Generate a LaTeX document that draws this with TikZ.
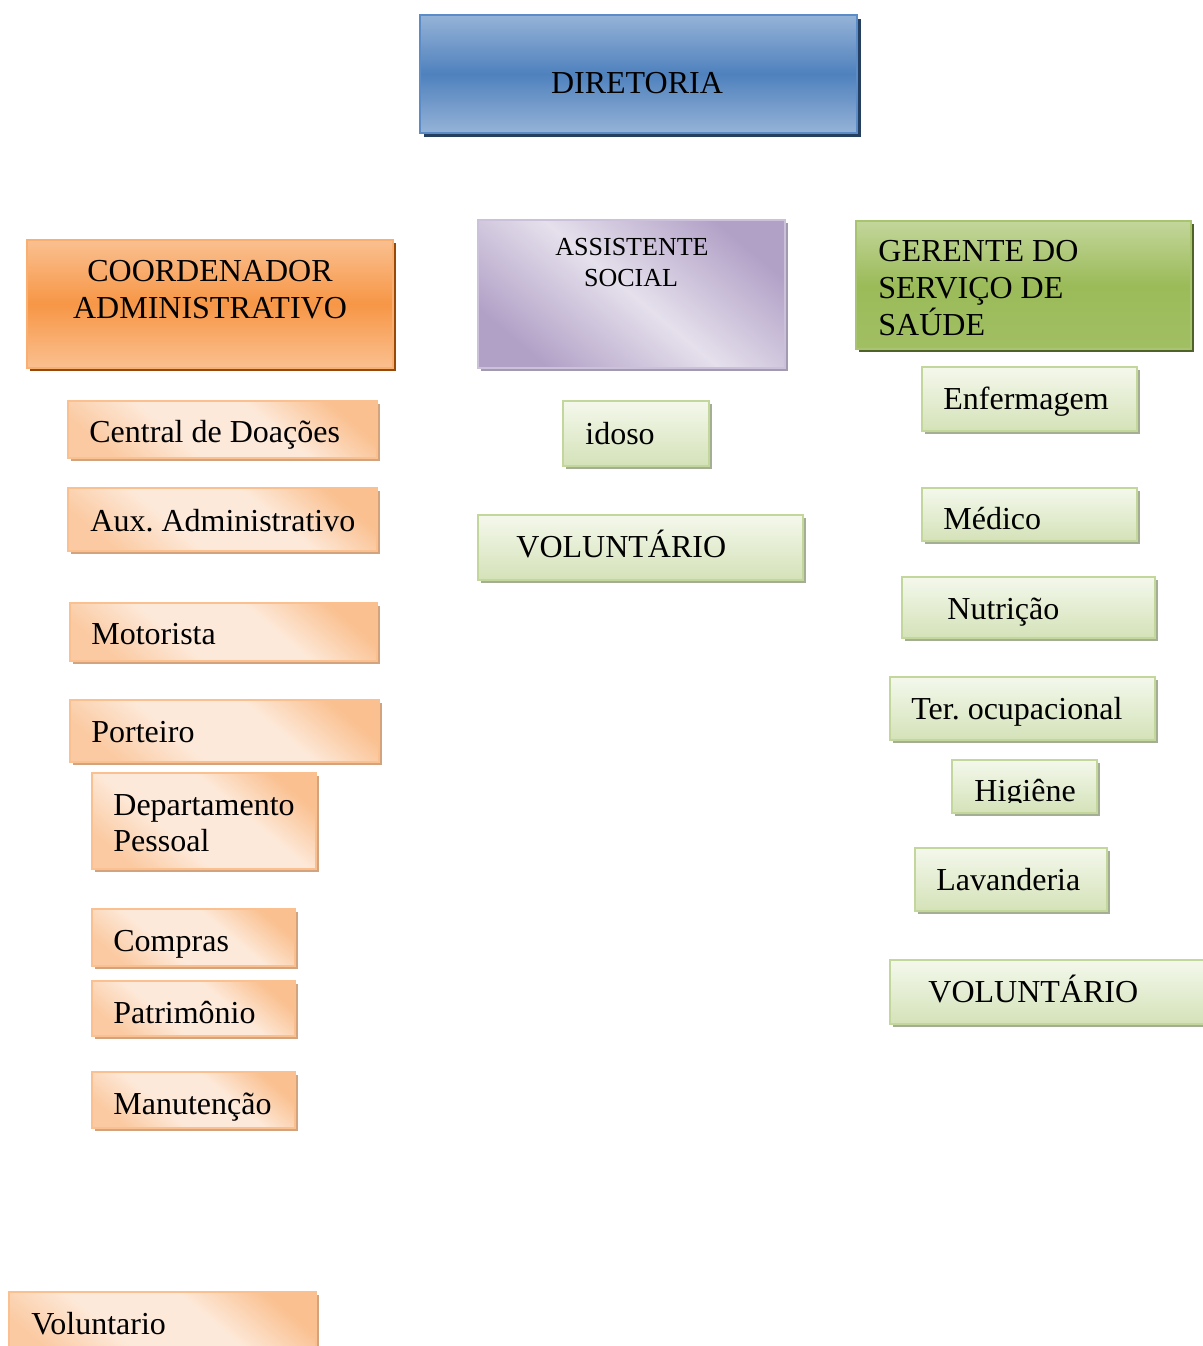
\documentclass[tikz,border=0pt]{standalone}
\usepackage{fontspec}
\setmainfont{Liberation Serif}
\usetikzlibrary{shadows}
\frenchspacing
\definecolor{dirmid}{HTML}{4F81BD}
\definecolor{dirlight}{HTML}{95B3D7}
\definecolor{dirline}{HTML}{5B8CC8}
\definecolor{dirshadow}{HTML}{243F60}
\definecolor{coomid}{HTML}{F79646}
\definecolor{coolight}{HTML}{FAC090}
\definecolor{cooline}{HTML}{F9AE72}
\definecolor{cooshadow}{HTML}{984807}
\definecolor{asmid}{HTML}{B2A1C7}
\definecolor{aslight}{HTML}{E5E0EC}
\definecolor{asline}{HTML}{CCC1DA}
\definecolor{asshadow}{HTML}{A29AAE}
\definecolor{germid}{HTML}{9BBB59}
\definecolor{gerlight}{HTML}{C3D69B}
\definecolor{gerline}{HTML}{A9C470}
\definecolor{gershadow}{HTML}{4F6228}
\definecolor{opale}{HTML}{FDE9D9}
\definecolor{oshadow}{HTML}{D3A37E}
\definecolor{gpale}{HTML}{F4F8EC}
\definecolor{gdeep}{HTML}{D4E2B8}
\definecolor{gshadow}{HTML}{A4AE92}
\pgfdeclareverticalshading{peachband}{100bp}{color(0bp)=(coolight!75!opale); color(24bp)=(coolight!75!opale);
  color(40bp)=(opale); color(60bp)=(opale); color(76bp)=(coolight); color(100bp)=(coolight)}

\begin{document}
\begin{tikzpicture}[x=0.5pt,y=-0.5pt,
  lbl/.style={inner sep=0pt,font=\fontsize{16}{19}\selectfont},
  small/.style={inner sep=0pt,font=\fontsize{13}{15}\selectfont},
  dirbox/.style={draw=dirline,line width=1pt,top color=dirlight,bottom color=dirlight,middle color=dirmid,
    general shadow={fill=dirshadow,shadow xshift=2pt,shadow yshift=-2pt}},
  coobox/.style={draw=cooline,line width=1pt,top color=coolight,bottom color=coolight,middle color=coomid,
    general shadow={fill=cooshadow,shadow xshift=1.5pt,shadow yshift=-1.5pt}},
  asbox/.style={draw=asline,line width=1pt,top color=asmid,bottom color=asmid,middle color=aslight,shading angle=-40,
    general shadow={fill=asshadow,shadow xshift=1.5pt,shadow yshift=-1.5pt}},
  gerbox/.style={draw=gerline,line width=1pt,top color=gerlight,bottom color=germid!85!gerlight,middle color=germid,
    general shadow={fill=gershadow,shadow xshift=1.5pt,shadow yshift=-1.5pt}},
  obox/.style={draw=coolight,line width=1pt,shade,shading=peachband,shading angle=-40,
    general shadow={fill=oshadow,shadow xshift=1.5pt,shadow yshift=-1.5pt}},
  gbox/.style={draw=gerlight,line width=1pt,top color=gpale,bottom color=gdeep,
    general shadow={fill=gshadow,shadow xshift=1.5pt,shadow yshift=-1.5pt}}]
\useasboundingbox (0,0) rectangle (1203,1346);

% top
\draw[dirbox] (420,15) rectangle (857,133);
\node[lbl,anchor=base] (dir) at (637,93) {DIRETORIA};

% heads
\draw[coobox] (27,240) rectangle (393,368);
\node[lbl,anchor=base] (coo1) at (210,281) {COORDENADOR};
\node[lbl,anchor=base] (coo2) at (210,318) {ADMINISTRATIVO};

\draw[asbox] (478,220) rectangle (785,368);
\node[small,anchor=base] (as1) at (632,255) {ASSISTENTE};
\node[small,anchor=base] (as2) at (631,286) {SOCIAL};

\draw[gerbox] (856,221) rectangle (1191,349);
\node[lbl,anchor=base west] (ger1) at (878,261) {GERENTE DO};
\node[lbl,anchor=base west] (ger2) at (878,298) {SERVIÇO DE};
\node[lbl,anchor=base west] (ger3) at (878,335) {SAÚDE};

% left column
\draw[obox] (68,401) rectangle (377,458);
\node[lbl,anchor=base west] (cdoa) at (89,442) {Central de Doações};
\draw[obox] (68,488) rectangle (377,551);
\node[lbl,anchor=base west] (aux) at (90,531) {Aux. Administrativo};
\draw[obox] (70,603) rectangle (377,661);
\node[lbl,anchor=base west] (mot) at (91,644) {Motorista};
\draw[obox] (70,700) rectangle (379,762);
\node[lbl,anchor=base west] (port) at (91,742) {Porteiro};
\draw[obox] (92,773) rectangle (316,869);
\node[lbl,anchor=base west] (dep1) at (113,815) {Departamento};
\node[lbl,anchor=base west] (dep2) at (113,851) {Pessoal};
\draw[obox] (92,909) rectangle (295,966);
\node[lbl,anchor=base west] (comp) at (113,951) {Compras};
\draw[obox] (92,981) rectangle (295,1036);
\node[lbl,anchor=base west] (patr) at (113,1023) {Patrimônio};
\draw[obox] (92,1072) rectangle (295,1128);
\node[lbl,anchor=base west] (manu) at (113,1114) {Manutenção};
\draw[obox] (9,1292) rectangle (316,1360);
\node[lbl,anchor=base west] (volo) at (31,1334) {Voluntario};

% middle column
\draw[gbox] (563,401) rectangle (709,466);
\node[lbl,anchor=base west] (idoso) at (585,444) {idoso};
\draw[gbox] (478,515) rectangle (803,580);
\node[lbl,anchor=base west] (volm) at (516,557) {VOLUNTÁRIO};

% right column
\draw[gbox] (922,367) rectangle (1137,431);
\node[lbl,anchor=base west] (enf) at (943,409) {Enfermagem};
\draw[gbox] (922,488) rectangle (1137,541);
\node[lbl,anchor=base west] (med) at (943,529) {Médico};
\draw[gbox] (902,577) rectangle (1155,638);
\node[lbl,anchor=base west] (nutr) at (947,619) {Nutrição};
\draw[gbox] (890,677) rectangle (1155,740);
\node[lbl,anchor=base west] (ter) at (911,719) {Ter. ocupacional};
\draw[gbox] (952,760) rectangle (1097,813);
\begin{scope}
  \clip (952,760) rectangle (1097,802);
  \node[lbl,anchor=base west] (hig) at (974,801) {Higiêne};
\end{scope}
\draw[gbox] (915,848) rectangle (1107,911);
\node[lbl,anchor=base west] (lav) at (936,890) {Lavanderia};
\draw[gbox] (890,960) rectangle (1215,1024);
\node[lbl,anchor=base west] (volr) at (928,1002) {VOLUNTÁRIO};
\end{tikzpicture}
\end{document}
